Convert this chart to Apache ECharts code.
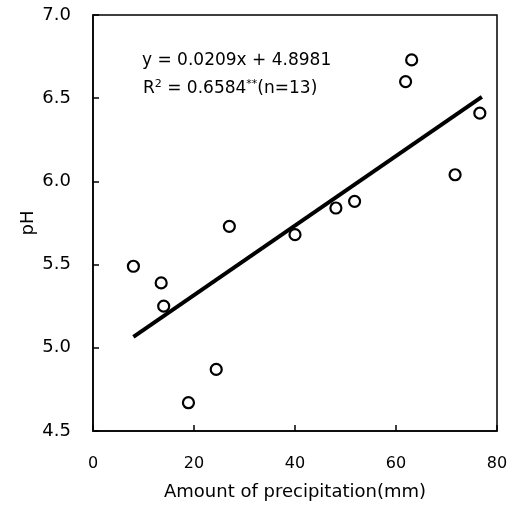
<!DOCTYPE html>
<html lang="en">
<head>
    <meta charset="UTF-8">
    <title>pH vs precipitation</title>
    <script src="https://cdn.jsdelivr.net/npm/echarts@6.0.0/dist/echarts.min.js"></script>
    <style>
        html, body { margin: 0; padding: 0; background: #fff; }
        #chart { width: 511px; height: 506px; }
    </style>
</head>
<body>
    <div id="chart"></div>
    <script>
        // values
        var precip = [8.0, 13.5, 14.0, 18.9, 24.4, 27.0, 40.0, 48.1, 51.8, 61.9, 63.1, 71.7, 76.6];
        var ph = [5.49, 5.39, 5.25, 4.67, 4.87, 5.73, 5.68, 5.84, 5.88, 6.60, 6.73, 6.04, 6.41];

        // regression line y = 0.0209x + 4.8981, drawn over the data range
        var slope = 0.0209;
        var intercept = 4.8981;
        var fitRange = [8, 77];

        var xTicks = [0, 20, 40, 60, 80];
        var yTicks = [4.5, 5.0, 5.5, 6.0, 6.5, 7.0];

        var points = precip.map(function (x, i) { return [x, ph[i]]; });
        var fitLine = fitRange.map(function (x) { return [x, intercept + slope * x]; });

        var myChart = echarts.init(document.getElementById('chart'));

        var option = {
            backgroundColor: '#fff',
            animation: false,
            grid: {
                left: 93, right: 14, top: 15, bottom: 73,
                show: true,
                borderColor: '#000',
                borderWidth: 1.5
            },
            xAxis: {
                type: 'value',
                min: xTicks[0],
                max: xTicks[xTicks.length - 1],
                interval: 20,
                name: 'Amount of precipitation(mm)',
                nameLocation: 'middle',
                nameGap: 52,
                nameMoveOverlap: false,
                nameTextStyle: { fontFamily: 'DejaVu Sans', fontSize: 18, color: '#000' },
                axisLine: { lineStyle: { color: '#000', width: 1.5 } },
                axisTick: { inside: true, length: 6, lineStyle: { color: '#000', width: 1.5 } },
                axisLabel: { margin: 25, fontFamily: 'DejaVu Sans', fontSize: 16, color: '#000' },
                splitLine: { show: false }
            },
            yAxis: {
                type: 'value',
                min: yTicks[0],
                max: yTicks[yTicks.length - 1],
                interval: 0.5,
                name: 'pH',
                nameLocation: 'middle',
                nameGap: 56,
                nameMoveOverlap: false,
                nameTextStyle: { fontFamily: 'DejaVu Sans', fontSize: 18, color: '#000' },
                axisLine: { lineStyle: { color: '#000', width: 1.5 } },
                axisTick: { inside: true, length: 6, lineStyle: { color: '#000', width: 1.5 } },
                axisLabel: {
                    margin: 22,
                    fontFamily: 'DejaVu Sans',
                    fontSize: 18,
                    color: '#000',
                    formatter: function (v) { return v.toFixed(1); }
                },
                splitLine: { show: false }
            },
            graphic: [{
                type: 'text',
                left: 142,
                top: 52,
                style: {
                    text: 'y = 0.0209x + 4.8981',
                    font: '17px "DejaVu Sans"',
                    fill: '#000'
                }
            }, {
                type: 'text',
                left: 143,
                top: 79,
                style: {
                    text: 'R{sup|2} = 0.6584{sup|**}(n=13)',
                    font: '17px "DejaVu Sans"',
                    fill: '#000',
                    rich: {
                        sup: { fontSize: 11, fontFamily: 'DejaVu Sans', verticalAlign: 'top', padding: [0, 0, 8, 0] }
                    }
                }
            }],
            series: [{
                type: 'line',
                data: fitLine,
                symbol: 'none',
                lineStyle: { color: '#000', width: 4 },
                z: 2
            }, {
                type: 'scatter',
                data: points,
                symbol: 'circle',
                symbolSize: 11,
                itemStyle: { color: '#fff', borderColor: '#000', borderWidth: 2.2, opacity: 1 },
                z: 3
            }]
        };

        myChart.setOption(option);
    </script>
</body>
</html>
